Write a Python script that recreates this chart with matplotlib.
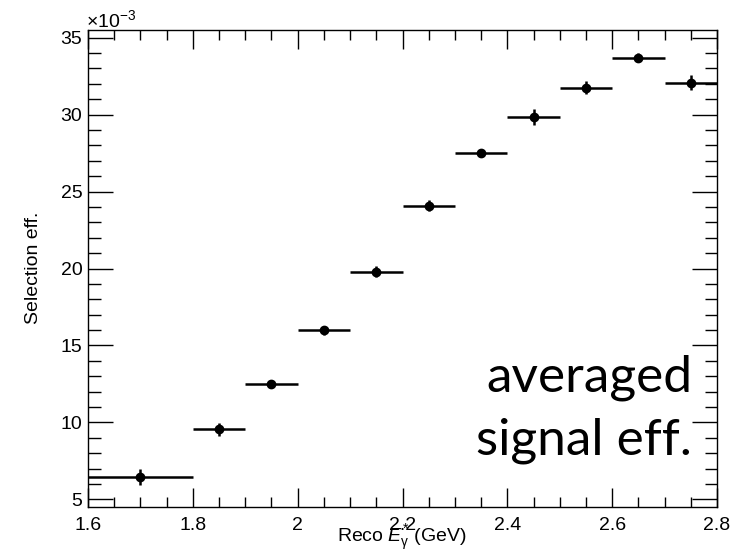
import numpy as np
import matplotlib
matplotlib.use('Agg')
import matplotlib.pyplot as plt
from matplotlib.ticker import MultipleLocator, FuncFormatter

plt.rcParams['font.family'] = ['Liberation Sans', 'DejaVu Sans']
plt.rcParams['mathtext.fontset'] = 'custom'
plt.rcParams['mathtext.rm'] = 'Liberation Sans'
plt.rcParams['mathtext.it'] = 'Liberation Sans:italic'

# bin edges (GeV) and selection efficiency in units of 1e-3
bin_lo = [1.6, 1.8, 1.9, 2.0, 2.1, 2.2, 2.3, 2.4, 2.5, 2.6, 2.7]
bin_hi = [1.8, 1.9, 2.0, 2.1, 2.2, 2.3, 2.4, 2.5, 2.6, 2.7, 2.8]
eff = [6.45, 9.54, 12.51, 15.99, 19.79, 24.09, 27.48, 29.84, 31.76, 33.71, 32.08]
eff_err = [0.55, 0.4, 0.25, 0.3, 0.35, 0.35, 0.25, 0.5, 0.4, 0.3, 0.5]

lo = np.array(bin_lo)
hi = np.array(bin_hi)
xc = (lo + hi) / 2
xw = (hi - lo) / 2

fig = plt.figure(figsize=(7.52, 5.53), dpi=100)
ax = fig.add_axes([88 / 752, 1 - 507 / 553, (717 - 88) / 752, (507 - 30) / 553])

ax.errorbar(xc, eff, xerr=xw, yerr=eff_err, fmt='o', color='black',
            ms=6, lw=1.8, capsize=0)

ax.set_xlim(1.6, 2.8)
ax.set_ylim(4.5, 35.5)

ax.xaxis.set_major_locator(MultipleLocator(0.2))
ax.xaxis.set_minor_locator(MultipleLocator(0.05))
ax.yaxis.set_major_locator(MultipleLocator(5))
ax.yaxis.set_minor_locator(MultipleLocator(1))
ax.xaxis.set_major_formatter(FuncFormatter(lambda v, p: '%g' % round(v, 3)))

ax.tick_params(which='both', direction='in', top=True, right=True,
               labelsize=14, width=1)
ax.tick_params(axis='x', which='major', length=14, pad=7)
ax.tick_params(axis='x', which='minor', length=7)
ax.tick_params(axis='y', which='major', length=18, pad=4)
ax.tick_params(axis='y', which='minor', length=9)
for s in ax.spines.values():
    s.set_linewidth(1)

# axis titles placed like ROOT does
fig.text(402 / 752, 1 - 542 / 553, r'Reco $E^{*}_{\mathrm{\gamma}}$ (GeV)',
         fontsize=14, ha='center', va='baseline')
fig.text(33 / 752, 1 - 268 / 553, 'Selection eff.', fontsize=14,
         rotation=90, ha='center', va='center')

fig.text(86 / 752, 1 - 27 / 553, r'$\times$10$^{-3}$', fontsize=14,
         ha='left', va='baseline')

fig.text(692 / 752, 1 - 455 / 553, 'averaged\nsignal eff.', fontsize=37,
         family='Lato', ha='right', va='baseline', linespacing=1.45)

fig.savefig('out.png', dpi=100)
